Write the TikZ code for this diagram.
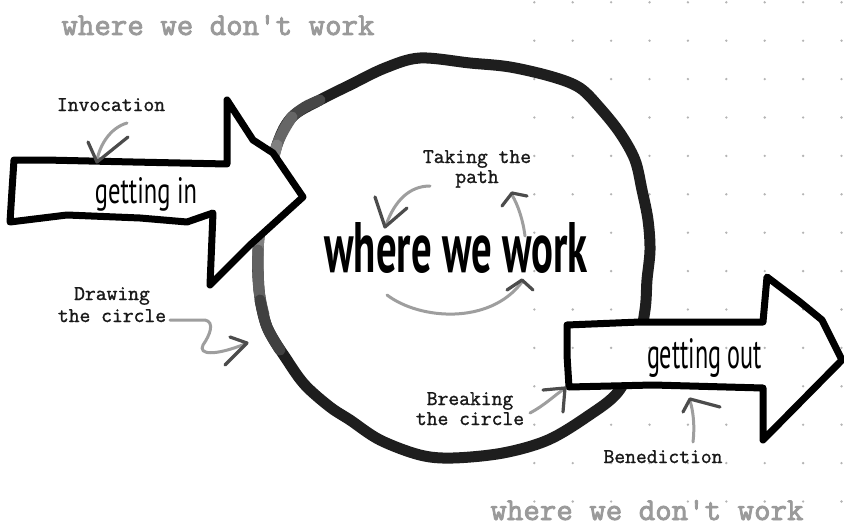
\documentclass[tikz,border=0pt]{standalone}
\usepackage{fontspec}
\newfontfamily\handfont{PT Sans}
\newfontfamily\typefont[FakeBold=1.3]{Latin Modern Mono}
\newfontfamily\titlefont[FakeBold=2.6]{Latin Modern Mono}
\definecolor{titlegray}{HTML}{9A9A9A}
\definecolor{dotgray}{HTML}{B4B4B4}
\definecolor{ink}{HTML}{1E1E1E}
\tikzset{
  lab/.style={font=\typefont\fontsize{21}{24}\selectfont, text=black!90, inner sep=0pt, anchor=base},
  titletext/.style={font=\titlefont\fontsize{32}{36}\selectfont, text=titlegray, inner sep=0pt, anchor=base},
  hand/.style={inner sep=0pt, anchor=base, text=black},
  bigarrow/.style={draw=black, line width=7pt, line join=round, line cap=round},
  ring/.style={line width=11pt, line cap=round, line join=round},
  shaft/.style={draw=black!38, line width=3pt, line cap=round},
  head/.style={draw=black!70, line width=3.2pt, line cap=round, line join=round},
}
\def\inarrow{(14,160) -- (45,160) -- (133,162) -- (227,164) -- (227,100) -- (253,140) -- (273,153) -- (303,197) -- (250,245) -- (210,285) -- (213,213) -- (187,222) -- (140,218) -- (67,215) -- (10,222) -- (12,190) -- cycle}
\def\outarrow{(567,325) -- (640,322) -- (763,322) -- (767,277) -- (800,302) -- (822,320) -- (842,360) -- (763,440) -- (763,388) -- (653,385) -- (569,387) -- (567,355) -- cycle}
\begin{document}
\begin{tikzpicture}[x=1pt,y=-1pt]
\useasboundingbox (0,0) rectangle (844,527);
\fill[white] (0,0) rectangle (844,527);
% dot grid
\foreach \i in {0,...,8}{\foreach \j in {0,...,13}{\fill[dotgray] (534.3+38.4*\i,2.3+38.4*\j) circle (1.3);}}
% the circle
\draw[ring, draw=ink] plot[smooth cycle, tension=0.55] coordinates {(420,58) (470,63) (510,67) (553,77) (580,88) (600,108) (620,133) (635,160) (642,190) (648,220) (650,250) (647,280) (645,310) (636,355) (618,392) (588,416) (548,440) (503,453) (453,458) (420,455) (380,440) (350,420) (330,407) (305,385) (287,360) (267,327) (259,290) (258,250) (264,200) (277,145) (292,117) (320,100) (350,85) (385,68)};
\draw[ring, draw=black!72] plot[smooth, tension=0.55] coordinates {(320,100) (305,107) (292,117) (283,130)};
\draw[ring, draw=black!60] plot[smooth, tension=0.55] coordinates {(292,117) (277,145) (264,200)};
\draw[ring, draw=black!50] plot[smooth, tension=0.55] coordinates {(277,145) (264,200) (258,250) (259,290)};
\draw[ring, draw=black!62] plot[smooth, tension=0.55] coordinates {(258,250) (259,290) (264,315)};
\draw[ring, draw=black!75] plot[smooth, tension=0.55] coordinates {(260,300) (267,327) (280,350)};
% big arrows (fills)
\fill[white] \inarrow;
\fill[white] \outarrow;
\begin{scope}
\clip \outarrow;
\foreach \i in {0,...,8}{\foreach \j in {0,...,13}{\fill[dotgray] (534.3+38.4*\i,2.3+38.4*\j) circle (1.3);}}
\end{scope}
\draw[bigarrow] \inarrow;
\draw[bigarrow] \outarrow;
% texts
\node[titletext] (top) at (218,35) {where we don\textquotesingle t work};
\node[titletext] (bottom) at (647,520) {where we don\textquotesingle t work};
\node[lab] (inv) at (111,111) {Invocation};
\node[lab] (take1) at (477,163) {Taking the};
\node[lab] (take2) at (477,183) {path};
\node[lab] (draw1) at (112,300) {Drawing};
\node[lab] (draw2) at (112,322) {the circle};
\node[lab] (brk1) at (470,405) {Breaking};
\node[lab] (brk2) at (470,425) {the circle};
\node[lab] (bene) at (663,463) {Benediction};
\node[hand] (work) at (456,272) {\resizebox{263pt}{50pt}{\handfont\bfseries where we work}};
\node[hand] (gin) at (146,203) {\resizebox{102pt}{26pt}{\handfont getting in}};
\node[hand] (gout) at (704.5,368) {\resizebox{115pt}{30pt}{\handfont getting out}};
% pencil arrows
\coordinate (invS) at (127,123); \coordinate (invT) at (97,160);
\draw[shaft] (invS) .. controls (110,128) and (100,145) .. (invT);
\draw[head] (88,142) -- (97,162) -- (128,137);
\coordinate (tlS) at (430,186); \coordinate (tlT) at (386,225);
\draw[shaft] (tlS) .. controls (410,186) and (395,200) .. (tlT);
\draw[head] (375,197) -- (385,227) -- (407,208);
\coordinate (trS) at (525,236); \coordinate (trT) at (512,195);
\draw[shaft] (trS) .. controls (523,220) and (518,205) .. (trT);
\draw[head] (502,206) -- (512,193) -- (527,196);
\coordinate (tbS) at (387,295); \coordinate (tbT) at (522,282);
\draw[shaft] (tbS) .. controls (420,320) and (490,325) .. (tbT);
\draw[head] (507,290) -- (522,280) -- (533,290);
\coordinate (dcS) at (170,320); \coordinate (dcT) at (245,344);
\draw[shaft] (dcS) -- (205,320) .. controls (215,322) and (210,335) .. (203,345) .. controls (198,355) and (215,356) .. (dcT);
\draw[head] (230,337) -- (247,343) -- (225,365);
\coordinate (bcS) at (530,413); \coordinate (bcT) at (564,389);
\draw[shaft] (bcS) .. controls (545,405) and (555,395) .. (bcT);
\draw[head] (543,390) -- (565,388) -- (563,412);
\coordinate (bnS) at (693,442); \coordinate (bnT) at (690,401);
\draw[shaft] (bnS) .. controls (695,425) and (693,410) .. (bnT);
\draw[head] (683,412) -- (690,399) -- (720,407);
\end{tikzpicture}
\end{document}
